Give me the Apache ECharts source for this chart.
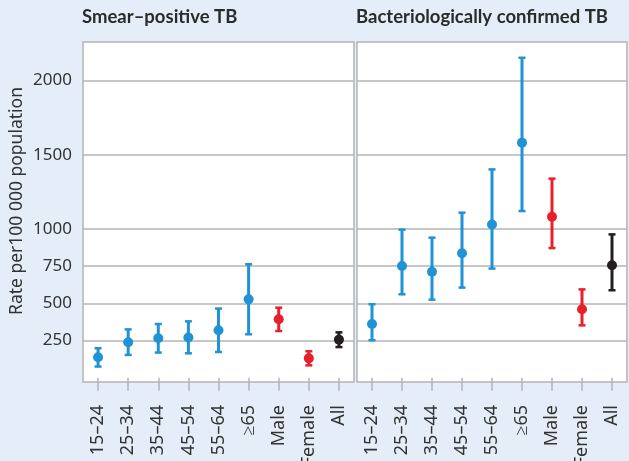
<!DOCTYPE html>
<html>
<head>
<meta charset="utf-8">
<script src="https://cdn.jsdelivr.net/npm/echarts@6/dist/echarts.min.js"></script>
<style>
  html, body { margin: 0; padding: 0; background: #e5eef8; }
  #chart { width: 629px; height: 461px; }
</style>
</head>
<body>
<div id="chart"></div>
<script>
const categories = ['15–24', '25–34', '35–44', '45–54', '55–64', '≥65', 'Male', 'Female', 'All']

// Smear-positive TB: rate and 95% interval
const smearRate = [137, 238, 265, 270, 319, 527, 393, 130, 256]
const smearLow  = [75, 153, 169, 164, 173, 292, 314, 83, 206]
const smearHigh = [198, 325, 361, 379, 465, 763, 471, 178, 305]

// Bacteriologically confirmed TB
const bactRate = [361, 751, 713, 837, 1030, 1581, 1083, 460, 756]
const bactLow  = [252, 561, 525, 606, 734, 1121, 872, 352, 588]
const bactHigh = [494, 996, 942, 1110, 1401, 2152, 1339, 594, 964]

const yTicks = [250, 500, 750, 1000, 1500, 2000]

const BLUE = '#1f93d3'
const RED = '#e8202a'
const BLACK = '#231f20'
const GRID_COLOR = '#b4b4b4'
const TEXT_COLOR = '#333'

const colorFor = (i) => {
  const c = categories[i]
  if (c === 'All') return BLACK
  if (c === 'Male' || c === 'Female') return RED
  return BLUE
}

const errorBarSeries = (axisIndex, low, high) => ({
  type: 'custom',
  xAxisIndex: axisIndex,
  yAxisIndex: axisIndex,
  data: categories.map((c, i) => [i, low[i], high[i]]),
  z: 2,
  renderItem: (params, api) => {
    const lo = api.coord([api.value(0), api.value(1)])
    const hi = api.coord([api.value(0), api.value(2)])
    const color = colorFor(params.dataIndex)
    const half = 3.5
    const style = { stroke: color, lineWidth: 3 }
    return {
      type: 'group',
      children: [
        { type: 'line', shape: { x1: lo[0], y1: lo[1], x2: hi[0], y2: hi[1] }, style },
        { type: 'line', shape: { x1: hi[0] - half, y1: hi[1], x2: hi[0] + half, y2: hi[1] }, style: { stroke: color, lineWidth: 2.5 } },
        { type: 'line', shape: { x1: lo[0] - half, y1: lo[1], x2: lo[0] + half, y2: lo[1] }, style: { stroke: color, lineWidth: 2.5 } }
      ]
    }
  }
})

const pointSeries = (axisIndex, rate) => ({
  type: 'scatter',
  xAxisIndex: axisIndex,
  yAxisIndex: axisIndex,
  data: rate.map((v, i) => [i, v]),
  symbolSize: 10,
  z: 3,
  itemStyle: {
    opacity: 1,
    color: (p) => colorFor(p.dataIndex)
  }
})

const makeXAxis = (gridIndex) => ({
  type: 'category',
  gridIndex,
  data: categories,
  boundaryGap: true,
  axisLine: { show: false },
  axisTick: {
    show: true,
    alignWithLabel: true,
    length: 13,
    lineStyle: { color: GRID_COLOR, width: 1.5 }
  },
  axisLabel: {
    interval: 0,
    rotate: 90,
    margin: 23,
    fontSize: 18,
    fontFamily: 'Noto Sans',
    color: TEXT_COLOR
  }
})

const makeYAxis = (gridIndex, showLabels) => ({
  type: 'value',
  gridIndex,
  min: -29,
  max: 2258,
  axisLine: { show: false },
  axisTick: { show: false, customValues: yTicks },
  axisLabel: {
    show: showLabels,
    customValues: yTicks,
    margin: 11,
    fontSize: 17,
    fontFamily: 'Noto Sans',
    color: TEXT_COLOR,
    formatter: (v) => String(v)
  },
  splitLine: {
    show: true,
    lineStyle: { color: GRID_COLOR, width: 1.5 }
  }
})

const titleStyle = {
  fontFamily: 'Lato',
  fontWeight: 'bold',
  fontSize: 18.5,
  color: '#2b2b2b'
}

const gridBase = {
  top: 42,
  height: 340,
  show: true,
  backgroundColor: '#fff',
  borderColor: GRID_COLOR,
  borderWidth: 1.5,
  containLabel: false,
  outerBoundsMode: 'none'
}

const myChart = echarts.init(document.getElementById('chart'))

const option = {
  animation: false,
  backgroundColor: '#e5eef8',
  title: [
    { text: 'Smear–positive TB', left: 82, top: 8, padding: 0, textStyle: titleStyle },
    { text: 'Bacteriologically confirmed TB', left: 356, top: 8, padding: 0, textStyle: titleStyle }
  ],
  grid: [
    { ...gridBase, left: 83, width: 271 },
    { ...gridBase, left: 357, width: 270 }
  ],
  xAxis: [makeXAxis(0), makeXAxis(1)],
  yAxis: [makeYAxis(0, true), makeYAxis(1, false)],
  graphic: [
    {
      type: 'text',
      x: 17.5,
      y: 201,
      rotation: Math.PI / 2,
      style: {
        text: 'Rate per100 000 population',
        fontSize: 17.5,
        fontFamily: 'Noto Sans',
        fill: TEXT_COLOR,
        align: 'center',
        verticalAlign: 'middle'
      }
    }
  ],
  series: [
    errorBarSeries(0, smearLow, smearHigh),
    pointSeries(0, smearRate),
    errorBarSeries(1, bactLow, bactHigh),
    pointSeries(1, bactRate)
  ]
}

myChart.setOption(option)
</script>
</body>
</html>
